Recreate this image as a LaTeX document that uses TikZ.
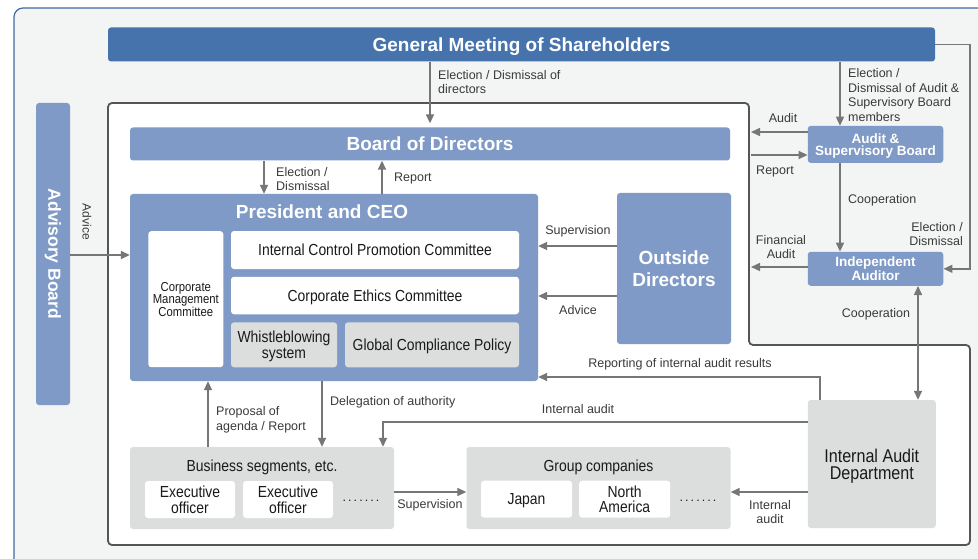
\documentclass[tikz,border=0pt]{standalone}
\usepackage{fontspec}
\setmainfont{Liberation Sans}
\newfontfamily\condfont[FakeStretch=0.87]{Liberation Sans}
\usetikzlibrary{arrows.meta}
\definecolor{gmblue}{HTML}{4673AC}
\definecolor{boxblue}{HTML}{7F9AC6}
\definecolor{boxgray}{HTML}{DCDDDD}
\definecolor{bggray}{HTML}{F3F4F4}
\definecolor{linegray}{HTML}{767676}
\definecolor{rimgray}{HTML}{555555}
\definecolor{frameblue}{HTML}{3D6BA5}
\definecolor{txtgray}{HTML}{3A3A3A}
\definecolor{txtdark}{HTML}{1A1A1A}
\begin{document}
\begin{tikzpicture}[x=1pt,y=-1pt,
    box/.style={inner sep=0pt,rounded corners=3pt,align=center,text depth=0pt},
    darkbox/.style={box,fill=gmblue,text=white,font=\bfseries\fontsize{19}{22}\selectfont},
    bluebox/.style={box,fill=boxblue,text=white,font=\bfseries\fontsize{19}{21.5}\selectfont},
    smallblue/.style={bluebox,font=\bfseries\fontsize{13.5}{12.5}\selectfont},
    whitebox/.style={box,fill=white,text=txtdark,font=\condfont\fontsize{16}{15.5}\selectfont},
    graybox/.style={box,fill=boxgray,text=txtdark,font=\condfont\fontsize{16}{16}\selectfont},
    lbl/.style={inner sep=0pt,align=left,text=txtgray,font=\fontsize{12.5}{14.5}\selectfont},
    arr/.style={draw=linegray,line width=1.5pt,-{Triangle[length=9pt,width=8pt]}},
    ]
    \useasboundingbox (0,0) rectangle (978,559);
    % frame and company boundary
    \draw[frameblue,line width=1.2pt,fill=bggray,rounded corners=9pt] (14,8) rectangle (1010,590);
    \draw[rimgray,line width=1.8pt,fill=white,rounded corners=4pt]
        (108,103) -- (749,103) -- (749,345) -- (970,345) -- (970,545) -- (108,545) -- cycle;
    \coordinate (rim) at (751,0);
    \coordinate (rr) at (970,0);

    % boxes
    \node[darkbox,minimum width=827pt,minimum height=34pt] (gm) at (521.5,44.5) {General Meeting of Shareholders};
    \node[bluebox,minimum width=34pt,minimum height=302pt] (adv) at (53,254) {};
    \node[text=white,font=\bfseries\fontsize{17.5}{20}\selectfont,rotate=-90] (advtxt) at (adv) {Advisory Board};
    \node[bluebox,minimum width=600pt,minimum height=33pt] (bod) at (430,144) {Board of Directors};
    \node[bluebox,minimum width=408pt,minimum height=187pt] (pres) at (334,287.5) {};
    \node[text=white,text depth=0pt,font=\bfseries\fontsize{19}{22}\selectfont] (prestitle) at (322,212) {President and CEO};
    \node[whitebox,minimum width=75pt,minimum height=136pt,font=\condfont\fontsize{13}{12.5}\selectfont] (cmc) at (185.8,299.2) {Corporate\\Management\\Committee};
    \node[whitebox,minimum width=288pt,minimum height=38pt] (icpc) at (375,250) {Internal Control Promotion Committee};
    \node[whitebox,minimum width=288pt,minimum height=37.5pt] (cec) at (375,295.5) {Corporate Ethics Committee};
    \node[graybox,minimum width=106pt,minimum height=45pt] (wb) at (284,344.8) {Whistleblowing\\system};
    \node[graybox,minimum width=174pt,minimum height=45pt] (gcp) at (432,344.8) {Global Compliance Policy};
    \node[bluebox,minimum width=114pt,minimum height=151pt] (od) at (674,268.5) {Outside\\Directors};
    \node[smallblue,minimum width=135.5pt,minimum height=37pt] (asb) at (875.5,144.4) {Audit \&\\Supervisory Board};
    \node[smallblue,minimum width=135.5pt,minimum height=34pt] (ia) at (875.5,268.8) {Independent\\Auditor};
    \node[graybox,minimum width=128pt,minimum height=128pt,font=\condfont\fontsize{18.5}{17}\selectfont] (iad) at (871.8,464) {Internal Audit\\Department};

    \node[graybox,minimum width=264pt,minimum height=82pt] (bs) at (262,488) {};
    \node[text=txtdark,text depth=0pt,font=\condfont\fontsize{16}{16}\selectfont] (bstitle) at (262,466) {Business segments, etc.};
    \node[whitebox,minimum width=90pt,minimum height=37pt] (eo1) at (190,499.5) {Executive\\officer};
    \node[whitebox,minimum width=90pt,minimum height=37pt] (eo2) at (288,499.5) {Executive\\officer};
    \node[lbl,text=txtdark] (bsdots) at (361,501) {.\,.\,.\,.\,.\,.\,.};

    \node[graybox,minimum width=264pt,minimum height=82pt] (gc) at (598.5,488) {};
    \node[text=txtdark,text depth=0pt,font=\condfont\fontsize{16}{16}\selectfont] (gctitle) at (598.5,466) {Group companies};
    \node[whitebox,minimum width=91pt,minimum height=37pt] (jp) at (526.5,499.2) {Japan};
    \node[whitebox,minimum width=91pt,minimum height=37pt] (na) at (624.7,499.2) {North\\America};
    \node[lbl,text=txtdark] (gcdots) at (698,501) {.\,.\,.\,.\,.\,.\,.};

    % connectors
    \draw[arr,shorten >=4pt] (gm.south -| 430,0) -- (bod.north -| 430,0);
    \node[lbl,anchor=west] at (438,82) {Election / Dismissal of\\directors};
    \draw[arr] (adv.east |- 0,255) -- (pres.west |- 0,255);
    \node[lbl,rotate=-90,font=\fontsize{12}{14}\selectfont] at (87,222) {Advice};
    \draw[arr] (bod.south -| 264,0) -- (pres.north -| 264,0);
    \node[lbl,anchor=west] at (276,179) {Election /\\Dismissal};
    \draw[arr] (pres.north -| 382,0) -- (bod.south -| 382,0);
    \node[lbl,anchor=west] at (394,178) {Report};

    \draw[arr] (od.west |- 0,246) -- (pres.east |- 0,246);
    \node[lbl] at (578,231) {Supervision};
    \draw[arr] (od.west |- 0,296) -- (pres.east |- 0,296);
    \node[lbl] at (578,310) {Advice};

    \draw[arr] (iad.north -| 820,0) |- (pres.east |- 0,377);
    \node[lbl] at (680,364) {Reporting of internal audit results};
    \draw[arr] (iad.west |- 0,422) -| (bs.north -| 383,0);
    \node[lbl] at (578,409) {Internal audit};
    \draw[arr] (iad.west |- 0,492) -- (gc.east |- 0,492);
    \node[lbl,align=center] at (770,512) {Internal\\audit};
    \draw[arr] (bs.east |- 0,492) -- (gc.west |- 0,492);
    \node[lbl] at (430,505) {Supervision};

    \draw[arr] (bs.north -| 208,0) -- (pres.south -| 208,0);
    \node[lbl,anchor=west] at (216,420) {Proposal of\\agenda / Report};
    \draw[arr] (pres.south -| 322,0) -- (bs.north -| 322,0);
    \node[lbl,anchor=west] at (330,402) {Delegation of authority};

    \draw[arr] (gm.south -| 840,0) -- (asb.north -| 840,0);
    \node[lbl,anchor=west] at (848,95) {Election /\\Dismissal of Audit \&\\Supervisory Board\\members};
    \draw[arr] (asb.west |- 0,132) -- (rim |- 0,132);
    \node[lbl] at (783,118) {Audit};
    \draw[arr] (rim |- 0,155) -- (asb.west |- 0,155);
    \node[lbl] at (775,171) {Report};
    \draw[arr] (asb.south -| 840,0) -- (ia.north -| 840,0);
    \node[lbl,anchor=west] at (848,200) {Cooperation};
    \draw[arr] (gm.east) -| (rr |- ia.east) -- (ia.east);
    \node[lbl,anchor=east,align=right] at (963,234) {Election /\\Dismissal};
    \draw[arr] (ia.west |- 0,267) -- (rim |- 0,267);
    \node[lbl,align=center] at (781,247) {Financial\\Audit};
    \draw[arr,{Triangle[length=9pt,width=8pt]}-{Triangle[length=9pt,width=8pt]}] (ia.south -| 918,0) -- (iad.north -| 918,0);
    \node[lbl] at (876,314) {Cooperation};
\end{tikzpicture}
\end{document}
